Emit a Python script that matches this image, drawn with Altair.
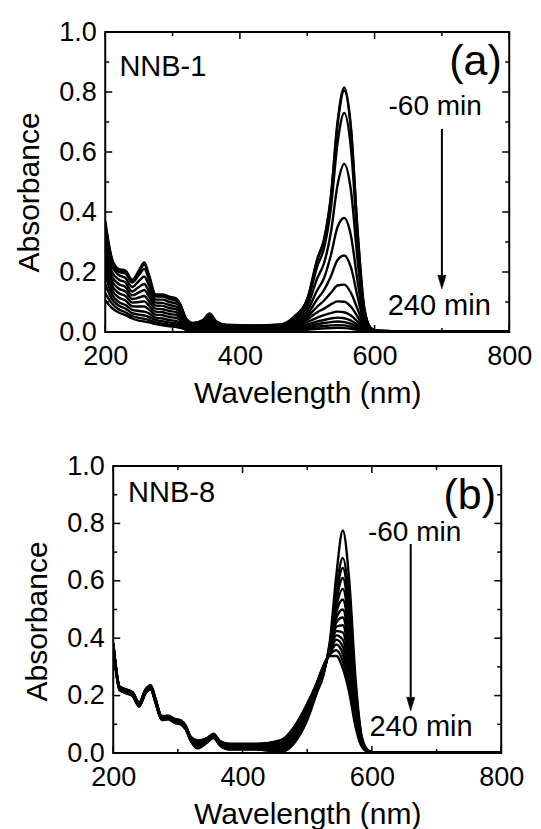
import altair as alt
import pandas as pd

FONT = "Liberation Sans"

# wavelength grid (nm)
wl = [200, 210, 220, 230, 240, 250, 258, 265, 275, 285, 295, 305, 312, 320, 330, 345, 355, 365, 380, 420, 460,
      480, 500, 515, 525, 535, 545, 555, 565, 575, 585, 595, 605, 650, 800]

# ---------------- panel (a) NNB-1 ----------------
times_a = [-60, 0, 10, 20, 30, 45, 60, 75, 90, 120, 150, 180, 240]
a01 = [0.37, 0.245, 0.21, 0.205, 0.175, 0.205, 0.232, 0.19, 0.125, 0.125, 0.118, 0.112, 0.09, 0.045, 0.03, 0.04, 0.062, 0.035, 0.024, 0.022, 0.025,
       0.05, 0.11, 0.245, 0.31, 0.45, 0.70, 0.815, 0.68, 0.33, 0.075, 0.012, 0.004, 0.002, 0.001]
a02 = [0.36, 0.24, 0.205, 0.2, 0.17, 0.2, 0.225, 0.185, 0.122, 0.122, 0.115, 0.108, 0.088, 0.044, 0.029, 0.038, 0.06, 0.034, 0.023, 0.021, 0.024,
       0.049, 0.108, 0.24, 0.305, 0.445, 0.69, 0.805, 0.672, 0.326, 0.074, 0.012, 0.004, 0.002, 0.001]
a03 = [0.35, 0.235, 0.2, 0.195, 0.165, 0.19, 0.21, 0.175, 0.118, 0.118, 0.11, 0.104, 0.085, 0.042, 0.027, 0.035, 0.055, 0.032, 0.022, 0.02, 0.023,
       0.045, 0.10, 0.22, 0.28, 0.41, 0.63, 0.73, 0.61, 0.30, 0.068, 0.011, 0.004, 0.002, 0.001]
a04 = [0.33, 0.22, 0.19, 0.18, 0.15, 0.17, 0.185, 0.155, 0.108, 0.108, 0.1, 0.095, 0.078, 0.038, 0.024, 0.03, 0.048, 0.028, 0.02, 0.018, 0.021,
       0.04, 0.085, 0.18, 0.23, 0.33, 0.49, 0.56, 0.47, 0.235, 0.055, 0.009, 0.003, 0.002, 0.001]
a05 = [0.31, 0.2, 0.175, 0.165, 0.135, 0.15, 0.16, 0.135, 0.098, 0.097, 0.09, 0.085, 0.07, 0.034, 0.021, 0.026, 0.04, 0.024, 0.018, 0.016, 0.018,
       0.035, 0.07, 0.14, 0.18, 0.255, 0.35, 0.38, 0.32, 0.165, 0.04, 0.007, 0.003, 0.001, 0.001]
a06 = [0.29, 0.185, 0.16, 0.15, 0.122, 0.132, 0.14, 0.118, 0.088, 0.087, 0.08, 0.076, 0.062, 0.03, 0.018, 0.022, 0.034, 0.02, 0.016, 0.014, 0.016,
       0.03, 0.058, 0.11, 0.14, 0.185, 0.24, 0.255, 0.215, 0.115, 0.03, 0.006, 0.002, 0.001, 0.001]
a07 = [0.27, 0.17, 0.145, 0.135, 0.11, 0.115, 0.12, 0.102, 0.078, 0.076, 0.07, 0.066, 0.054, 0.026, 0.016, 0.018, 0.027, 0.017, 0.014, 0.012, 0.014,
       0.026, 0.05, 0.085, 0.105, 0.13, 0.155, 0.158, 0.13, 0.075, 0.02, 0.004, 0.002, 0.001, 0.001]
a08 = [0.25, 0.155, 0.13, 0.12, 0.098, 0.1, 0.102, 0.088, 0.068, 0.066, 0.06, 0.057, 0.046, 0.022, 0.014, 0.015, 0.021, 0.014, 0.012, 0.01, 0.012,
       0.022, 0.042, 0.066, 0.078, 0.092, 0.102, 0.101, 0.084, 0.05, 0.014, 0.003, 0.001, 0.001, 0.001]
a09 = [0.22, 0.14, 0.115, 0.105, 0.086, 0.085, 0.085, 0.075, 0.058, 0.056, 0.05, 0.047, 0.038, 0.018, 0.012, 0.012, 0.016, 0.011, 0.01, 0.008, 0.01,
       0.018, 0.033, 0.048, 0.056, 0.063, 0.068, 0.066, 0.055, 0.034, 0.01, 0.002, 0.001, 0.001, 0.0]
a10 = [0.19, 0.125, 0.1, 0.09, 0.074, 0.07, 0.068, 0.062, 0.048, 0.045, 0.04, 0.037, 0.03, 0.015, 0.01, 0.009, 0.012, 0.009, 0.008, 0.007, 0.008,
       0.014, 0.025, 0.035, 0.04, 0.045, 0.048, 0.046, 0.038, 0.024, 0.007, 0.002, 0.001, 0.0, 0.0]
a11 = [0.16, 0.11, 0.088, 0.078, 0.063, 0.058, 0.055, 0.05, 0.04, 0.036, 0.032, 0.029, 0.024, 0.012, 0.008, 0.007, 0.009, 0.007, 0.006, 0.005, 0.006,
       0.011, 0.019, 0.026, 0.03, 0.033, 0.035, 0.033, 0.027, 0.017, 0.005, 0.001, 0.0, 0.0, 0.0]
a12 = [0.13, 0.095, 0.076, 0.066, 0.053, 0.047, 0.044, 0.04, 0.032, 0.028, 0.025, 0.022, 0.018, 0.009, 0.006, 0.005, 0.006, 0.005, 0.004, 0.004, 0.004,
       0.008, 0.013, 0.018, 0.02, 0.022, 0.023, 0.022, 0.018, 0.011, 0.003, 0.001, 0.0, 0.0, 0.0]
a13 = [0.105, 0.08, 0.065, 0.056, 0.045, 0.038, 0.035, 0.032, 0.026, 0.022, 0.019, 0.017, 0.014, 0.007, 0.005, 0.004, 0.004, 0.004, 0.003, 0.003, 0.003,
       0.005, 0.008, 0.011, 0.012, 0.013, 0.014, 0.013, 0.011, 0.007, 0.002, 0.001, 0.0, 0.0, 0.0]
curves_a = [a01, a02, a03, a04, a05, a06, a07, a08, a09, a10, a11, a12, a13]

# ---------------- panel (b) NNB-8 ----------------
times_b = [-60, 0, 15, 30, 45, 60, 75, 90, 105, 120, 150, 180, 200, 220, 240]
b01 = [0.370, 0.218, 0.208, 0.198, 0.162, 0.208, 0.222, 0.178, 0.115, 0.117, 0.105, 0.099, 0.082, 0.042, 0.016, 0.036, 0.052, 0.026, 0.012, 0.012, 0.004,
       0.035, 0.115, 0.21, 0.27, 0.39, 0.62, 0.775, 0.60, 0.25, 0.05, 0.008, 0.002, 0.001, 0.001]
b02 = [0.371, 0.219, 0.209, 0.199, 0.163, 0.209, 0.223, 0.179, 0.116, 0.118, 0.106, 0.100, 0.083, 0.043, 0.018, 0.038, 0.054, 0.028, 0.014, 0.014, 0.007,
       0.04, 0.12, 0.215, 0.275, 0.38, 0.57, 0.68, 0.53, 0.225, 0.046, 0.008, 0.002, 0.001, 0.001]
b03 = [0.372, 0.220, 0.210, 0.200, 0.164, 0.210, 0.224, 0.180, 0.117, 0.119, 0.107, 0.101, 0.084, 0.044, 0.020, 0.040, 0.055, 0.030, 0.016, 0.016, 0.010,
       0.045, 0.124, 0.218, 0.278, 0.375, 0.55, 0.645, 0.50, 0.212, 0.044, 0.007, 0.002, 0.001, 0.001]
b04 = [0.373, 0.221, 0.211, 0.201, 0.165, 0.211, 0.225, 0.181, 0.118, 0.120, 0.108, 0.102, 0.085, 0.045, 0.022, 0.041, 0.056, 0.031, 0.018, 0.018, 0.013,
       0.05, 0.128, 0.221, 0.281, 0.372, 0.53, 0.61, 0.47, 0.2, 0.042, 0.007, 0.002, 0.001, 0.001]
b05 = [0.374, 0.222, 0.212, 0.202, 0.166, 0.212, 0.226, 0.182, 0.119, 0.121, 0.109, 0.103, 0.086, 0.046, 0.024, 0.042, 0.057, 0.032, 0.020, 0.020, 0.016,
       0.055, 0.132, 0.224, 0.284, 0.37, 0.51, 0.572, 0.44, 0.188, 0.04, 0.007, 0.002, 0.001, 0.001]
b06 = [0.375, 0.223, 0.213, 0.203, 0.167, 0.213, 0.227, 0.183, 0.120, 0.122, 0.110, 0.104, 0.087, 0.047, 0.026, 0.043, 0.058, 0.033, 0.022, 0.022, 0.019,
       0.06, 0.136, 0.227, 0.287, 0.368, 0.49, 0.535, 0.41, 0.175, 0.038, 0.006, 0.002, 0.001, 0.001]
b07 = [0.376, 0.224, 0.214, 0.204, 0.168, 0.214, 0.228, 0.184, 0.121, 0.123, 0.111, 0.105, 0.088, 0.048, 0.028, 0.044, 0.059, 0.034, 0.024, 0.024, 0.022,
       0.064, 0.14, 0.23, 0.29, 0.365, 0.47, 0.50, 0.38, 0.163, 0.036, 0.006, 0.002, 0.001, 0.001]
b08 = [0.377, 0.225, 0.215, 0.205, 0.169, 0.215, 0.229, 0.185, 0.122, 0.124, 0.112, 0.106, 0.089, 0.049, 0.030, 0.045, 0.060, 0.035, 0.025, 0.025, 0.025,
       0.068, 0.144, 0.232, 0.292, 0.362, 0.455, 0.472, 0.355, 0.152, 0.034, 0.006, 0.001, 0.001, 0.001]
b09 = [0.378, 0.226, 0.216, 0.206, 0.170, 0.216, 0.230, 0.186, 0.123, 0.125, 0.113, 0.107, 0.090, 0.050, 0.032, 0.046, 0.061, 0.036, 0.026, 0.026, 0.028,
       0.072, 0.148, 0.234, 0.294, 0.359, 0.44, 0.445, 0.33, 0.142, 0.032, 0.005, 0.001, 0.001, 0.001]
b10 = [0.379, 0.227, 0.217, 0.207, 0.171, 0.217, 0.231, 0.187, 0.124, 0.126, 0.114, 0.108, 0.091, 0.051, 0.034, 0.047, 0.062, 0.037, 0.027, 0.027, 0.031,
       0.076, 0.152, 0.236, 0.296, 0.356, 0.425, 0.42, 0.31, 0.133, 0.03, 0.005, 0.001, 0.001, 0.001]
b11 = [0.380, 0.228, 0.218, 0.208, 0.172, 0.218, 0.232, 0.188, 0.125, 0.127, 0.115, 0.109, 0.092, 0.052, 0.036, 0.048, 0.063, 0.038, 0.028, 0.028, 0.034,
       0.08, 0.156, 0.238, 0.298, 0.353, 0.41, 0.395, 0.29, 0.124, 0.028, 0.005, 0.001, 0.001, 0.001]
b12 = [0.381, 0.229, 0.219, 0.209, 0.173, 0.219, 0.233, 0.189, 0.126, 0.128, 0.116, 0.110, 0.093, 0.053, 0.038, 0.049, 0.064, 0.039, 0.029, 0.029, 0.037,
       0.083, 0.16, 0.24, 0.3, 0.35, 0.395, 0.37, 0.27, 0.115, 0.026, 0.004, 0.001, 0.001, 0.001]
b13 = [0.382, 0.230, 0.220, 0.210, 0.174, 0.220, 0.234, 0.190, 0.127, 0.129, 0.117, 0.111, 0.094, 0.054, 0.040, 0.050, 0.065, 0.040, 0.030, 0.030, 0.040,
       0.086, 0.164, 0.242, 0.302, 0.347, 0.378, 0.345, 0.25, 0.106, 0.024, 0.004, 0.001, 0.001, 0.001]
b14 = [0.383, 0.231, 0.221, 0.211, 0.175, 0.221, 0.235, 0.191, 0.128, 0.129, 0.118, 0.112, 0.095, 0.055, 0.042, 0.051, 0.066, 0.041, 0.031, 0.031, 0.043,
       0.089, 0.168, 0.244, 0.303, 0.343, 0.358, 0.32, 0.23, 0.097, 0.022, 0.004, 0.001, 0.001, 0.001]
b15 = [0.384, 0.232, 0.222, 0.212, 0.176, 0.222, 0.236, 0.192, 0.129, 0.130, 0.119, 0.113, 0.096, 0.056, 0.044, 0.052, 0.067, 0.042, 0.032, 0.032, 0.046,
       0.092, 0.172, 0.246, 0.304, 0.338, 0.338, 0.295, 0.21, 0.088, 0.02, 0.003, 0.001, 0.001, 0.001]
curves_b = [b01, b02, b03, b04, b05, b06, b07, b08, b09, b10, b11, b12, b13, b14, b15]

# axis tick values
x_major = [200, 400, 600, 800]
x_minor = [300, 500, 700]
y_major = [0.0, 0.2, 0.4, 0.6, 0.8, 1.0]
y_minor = [0.1, 0.3, 0.5, 0.7, 0.9]

# annotations (data coordinates)
sample_names = ["NNB-1", "NNB-8"]
sample_pos = [(221, 0.853), (223, 0.876)]
panel_letters = ["(a)", "(b)"]
letter_pos = [(789, 0.857), (792, 0.85)]
start_labels = ["-60 min", "-60 min"]
start_pos = [(690, 0.723), (666, 0.739)]
end_labels = ["240 min", "240 min"]
end_pos = [(696, 0.057), (676, 0.059)]
arrow_x = [700, 660]
arrow_from = [0.677, 0.728]
arrow_head = [0.166, 0.170]
arrow_stem_end = [0.19, 0.195]

panel_w = [404, 388]
panel_h = [300, 287]
title_y = [160, 155]


def long_table(curves, times):
    rows = []
    for t, vals in zip(times, curves):
        for w, v in zip(wl, vals):
            rows.append({"wl": w, "A": v, "t": t})
    return pd.DataFrame(rows)


def panel(i, curves, times):
    W, H = panel_w[i], panel_h[i]
    xs = alt.Scale(domain=[200, 800], nice=False, zero=False)
    ys = alt.Scale(domain=[0, 1], nice=False, zero=False)
    ax_x = alt.Axis(values=x_major, title="Wavelength (nm)", labelPadding=11, titlePadding=9,
                    labelFlush=False, ticks=False, domain=False, grid=False)
    ax_y = alt.Axis(values=y_major, format=".1f", title="Absorbance",
                    labelPadding=9, titlePadding=14, titleY=title_y[i], labelFlush=False,
                    ticks=False, domain=False, grid=False)

    def X(f):
        return alt.X(f, scale=xs, axis=ax_x)

    def Y(f):
        return alt.Y(f, scale=ys, axis=ax_y)

    lines = alt.Chart(long_table(curves, times)).mark_line(
        color="black", strokeWidth=2.4, interpolate="monotone", clip=True
    ).encode(x=X("wl:Q"), y=Y("A:Q"), detail="t:N", order="wl:Q")

    def xticks(vals, L, top):
        return alt.Chart(pd.DataFrame({"v": vals})).mark_rule(color="black", strokeWidth=1.5).encode(
            x=X("v:Q"), y=alt.value(0 if top else H), y2=alt.value(L if top else H - L))

    def yticks(vals, L, right):
        return alt.Chart(pd.DataFrame({"v": vals})).mark_rule(color="black", strokeWidth=1.5).encode(
            y=Y("v:Q"), x=alt.value(W if right else 0), x2=alt.value(W - L if right else L))

    tick_layers = [xticks(x_major, 7, False), xticks(x_minor, 4, False),
                   xticks(x_major, 7, True), xticks(x_minor, 4, True),
                   yticks(y_major, 7, False), yticks(y_minor, 4, False),
                   yticks(y_major, 7, True), yticks(y_minor, 4, True)]

    def text(label, pos, size, align):
        df = pd.DataFrame({"x": [pos[0]], "y": [pos[1]], "s": [label]})
        return alt.Chart(df).mark_text(font=FONT, fontSize=size, align=align, baseline="alphabetic",
                                       color="black").encode(x=X("x:Q"), y=Y("y:Q"), text="s:N")

    texts = [text(sample_names[i], sample_pos[i], 29, "left"),
             text(panel_letters[i], letter_pos[i], 43, "right"),
             text(start_labels[i], start_pos[i], 28, "center"),
             text(end_labels[i], end_pos[i], 29, "center")]

    arr = pd.DataFrame({"x": [arrow_x[i]], "y1": [arrow_from[i]], "y2": [arrow_stem_end[i]],
                        "yh": [arrow_head[i]]})
    stem = alt.Chart(arr).mark_rule(color="black", strokeWidth=2).encode(
        x=X("x:Q"), y=Y("y1:Q"), y2="y2:Q")
    head = alt.Chart(arr).mark_point(shape="M-0.6,-1L0.6,-1L0,1Z", filled=True, fill="black",
                                     stroke="black", strokeWidth=0.5, opacity=1, size=190).encode(
        x=X("x:Q"), y=Y("yh:Q"))

    return alt.layer(lines, *tick_layers, *texts, stem, head).properties(width=W, height=H)


chart = alt.vconcat(
    panel(0, curves_a, times_a),
    panel(1, curves_b, times_b),
    spacing=42,
    center=True,
).properties(
    padding={"left": 13, "top": 17, "right": 5, "bottom": 5},
    background="white",
).configure_view(
    stroke="black", strokeWidth=2
).configure_axis(
    labelFont=FONT, titleFont=FONT, labelFontSize=27, titleFontSize=30,
    labelColor="black", titleColor="black", titleFontWeight="normal",
    ticks=False, domain=False, grid=False,
)

chart.save("out.html", embed_options={"renderer": "svg", "actions": False})
